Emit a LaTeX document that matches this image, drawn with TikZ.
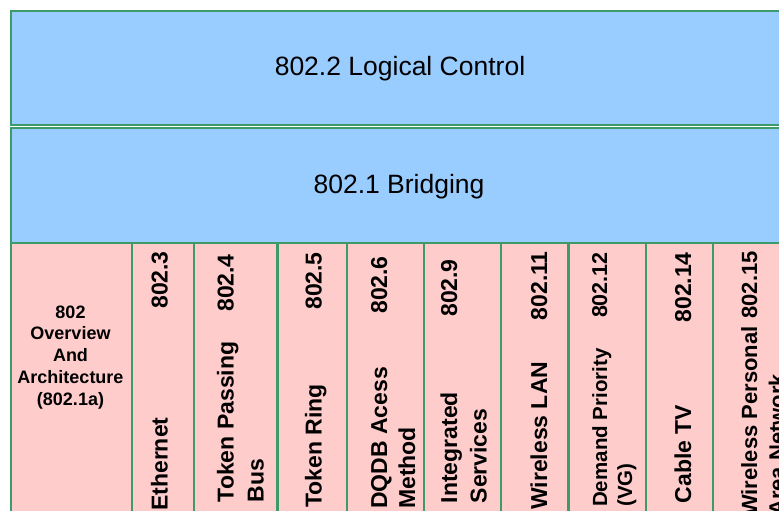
\documentclass[tikz,border=0pt]{standalone}
\usepackage{fontspec}
\setmainfont{Liberation Sans}
\definecolor{edge}{RGB}{60,155,105}
\definecolor{layerblue}{RGB}{153,204,255}
\definecolor{cellpink}{RGB}{255,204,204}
\begin{document}
\begin{tikzpicture}[x=1pt,y=-1pt,
  layer/.style={draw=edge, fill=layerblue, line width=2pt},
  cellbox/.style={draw=edge, fill=cellpink, line width=2.2pt},
  big/.style={font=\fontsize{26.5}{32}\selectfont, inner sep=0pt, anchor=base},
  vname/.style={rotate=90, anchor=base west, inner sep=0pt, align=left, font=\bfseries\fontsize{23}{30}\selectfont},
  vnum/.style={rotate=90, anchor=base east, inner sep=0pt, font=\bfseries\fontsize{23}{28}\selectfont}]
\useasboundingbox (0,0) rectangle (779,511);
\clip (0,0) rectangle (779,511);
\fill[white] (0,0) rectangle (779,511);
% layers
\draw[layer] (11,11) rectangle (792,124.5);
\draw[layer] (11,128) rectangle (792,243);
\node[big] (llc) at (400,76) {802.2 Logical Control};
\node[big] (br) at (399,193.3) {802.1 Bridging};
% cells
\foreach \a/\b in {11/132,132/194,194/277.5,277.5/347,347/424,424/501,501/568.5,568.5/646,646/713,713/800}
  \draw[cellbox] (\a,243) rectangle (\b,540);
\node[font=\bfseries\fontsize{18}{21.7}\selectfont, align=center, anchor=base, inner sep=0pt] (ov) at (70.5,405)
  {802\\Overview\\And\\Architecture\\(802.1a)};
% Ethernet
\node[vname] (eth) at (167.5,511) {Ethernet};
\node[vnum] (ethn) at (167.5,251) {802.3};
% Token passing bus
\node[vname] (tpb) at (263.5,502.5) {Token Passing\\Bus};
\node[vnum] (tpbn) at (233.5,254) {802.4};
% Token ring
\node[vname] (tr) at (321.5,508) {Token Ring};
\node[vnum] (trn) at (321.5,252) {802.5};
% DQDB
\node[vname, font=\bfseries\fontsize{23}{28}\selectfont] (dq) at (415,509) {DQDB Acess\\Method};
\node[vnum] (dqn) at (387,256) {802.6};
% Integrated services
\node[vname, font=\bfseries\fontsize{23}{29.5}\selectfont] (is) at (486.5,503.5) {Integrated\\Services};
\node[vnum] (isn) at (457,259) {802.9};
% Wireless LAN
\node[vname] (wl) at (547,510) {Wireless LAN};
\node[vnum] (wln) at (547,251) {802.11};
% Demand priority
\node[vname, font=\bfseries\fontsize{20.5}{25}\selectfont] (dp) at (632,507) {Demand Priority\\(VG)};
\node[vnum, font=\bfseries\fontsize{21.5}{25}\selectfont] (dpn) at (607,252) {802.12};
% Cable TV
\node[vname] (ctv) at (691,503.5) {Cable TV};
\node[vnum] (ctvn) at (691,252) {802.14};
% Wireless PAN
\node[vname, font=\bfseries\fontsize{22}{27.5}\selectfont] (wp) at (784.5,516) {Wireless Personal\\Area Network};
\node[vnum, font=\bfseries\fontsize{22}{27.5}\selectfont] (wpn) at (757,251) {802.15};
\end{tikzpicture}
\end{document}
